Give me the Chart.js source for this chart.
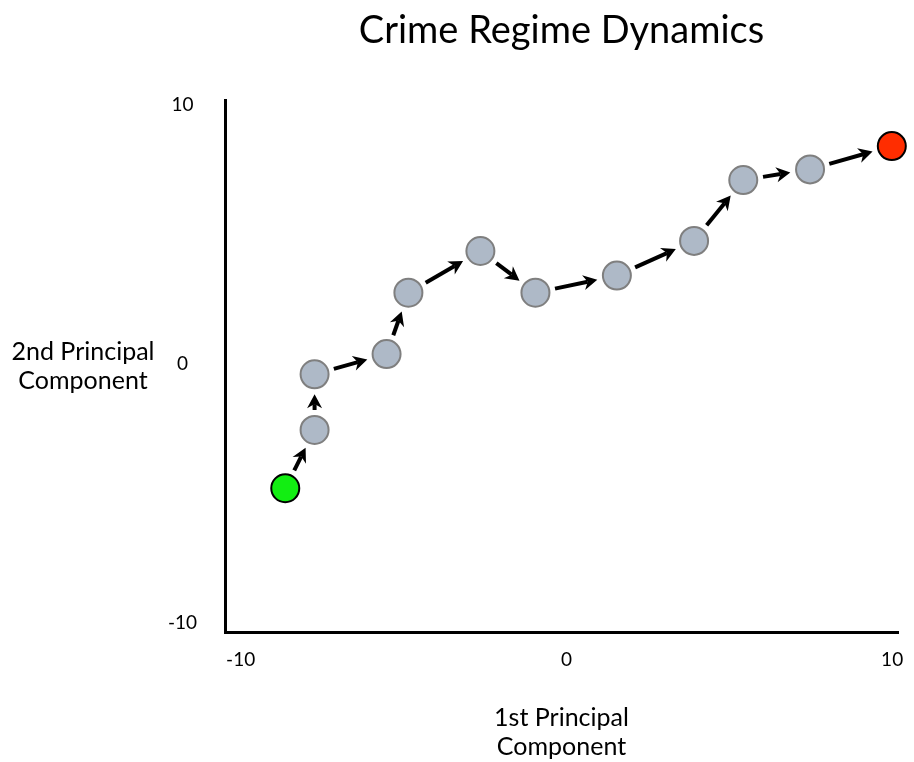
<!DOCTYPE html>
<html lang="en">
<head>
  <title>Crime Regime Dynamics</title>
  <script src="https://cdn.jsdelivr.net/npm/chart.js"></script>
  <style>
    body { margin: 0; background: #ffffff; }
    #wrap { width: 914px; height: 762px; }
  </style>
</head>
<body>
  <div id="wrap">
    <canvas id="regimeChart" width="914" height="762"></canvas>
  </div>
  <script>
    // yearly positions on the first two principal components
    var pc1 = [-8.63, -7.73, -7.73, -5.52, -4.85, -2.64, -0.95, 1.55, 3.92, 5.43, 7.48, 9.99];
    var pc2 = [-4.80, -2.55, -0.40, 0.38, 2.75, 4.36, 2.75, 3.41, 4.75, 7.10, 7.51, 8.41];
    var xTicks = [-10, 0, 10];
    var yTicks = [-10, 0, 10];

    var FONT = "Lato, 'Open Sans', sans-serif";
    var R = 14;

    var pts = [];
    for (var i = 0; i < pc1.length; i++) pts.push({x: pc1[i], y: pc2[i]});

    function fillFor(ctx) {
      if (ctx.dataIndex === 0) return '#12ee12';
      if (ctx.dataIndex === pc1.length - 1) return '#ff2d00';
      return '#aeb9c7';
    }
    function edgeFor(ctx) {
      if (ctx.dataIndex === 0 || ctx.dataIndex === pc1.length - 1) return '#000000';
      return '#7f7f7f';
    }

    function noPad(s) { s.paddingLeft = 0; s.paddingRight = 0; s.paddingTop = 0; s.paddingBottom = 0; }

    // arrows between consecutive points
    var arrowPlugin = {
      id: 'arrows',
      beforeDatasetsDraw: function(chart) {
        var c = chart.ctx, xs = chart.scales.x, ys = chart.scales.y;
        c.save();
        c.strokeStyle = '#000';
        c.fillStyle = '#000';
        c.lineWidth = 4;
        for (var i = 0; i < pc1.length - 1; i++) {
          var x0 = xs.getPixelForValue(pc1[i]), y0 = ys.getPixelForValue(pc2[i]);
          var x1 = xs.getPixelForValue(pc1[i + 1]), y1 = ys.getPixelForValue(pc2[i + 1]);
          var dx = x1 - x0, dy = y1 - y0, len = Math.sqrt(dx * dx + dy * dy);
          var ux = dx / len, uy = dy / len, px = -uy, py = ux;
          var sx = x0 + ux * (R + 6), sy = y0 + uy * (R + 6);
          var ex = x1 - ux * (R + 6), ey = y1 - uy * (R + 6);
          var hl = 14, hw = 7.5;
          c.beginPath();
          c.moveTo(sx, sy);
          c.lineTo(ex - ux * hl * 0.7, ey - uy * hl * 0.7);
          c.stroke();
          c.beginPath();
          c.moveTo(ex, ey);
          c.lineTo(ex - ux * hl + px * hw, ey - uy * hl + py * hw);
          c.lineTo(ex - ux * hl * 0.7, ey - uy * hl * 0.7);
          c.lineTo(ex - ux * hl - px * hw, ey - uy * hl - py * hw);
          c.closePath();
          c.fill();
        }
        c.restore();
      }
    };

    // horizontal y axis title on the left
    var yTitlePlugin = {
      id: 'yTitle',
      afterDraw: function(chart) {
        var c = chart.ctx;
        c.save();
        c.fillStyle = '#000';
        c.font = '25px ' + FONT;
        c.textAlign = 'center';
        c.textBaseline = 'middle';
        c.fillText('2nd Principal', 83, 352);
        c.fillText('Component', 83, 381);
        c.restore();
      }
    };

    var ctx = document.getElementById('regimeChart').getContext('2d');
    var chart = new Chart(ctx, {
      type: 'scatter',
      data: {
        datasets: [{
          data: pts,
          pointRadius: R,
          pointBorderWidth: 2,
          pointBackgroundColor: fillFor,
          pointBorderColor: edgeFor,
          clip: false
        }]
      },
      options: {
        responsive: false,
        animation: false,
        events: [],
        layout: { padding: { left: 0, right: 6, top: 0, bottom: 0 } },
        plugins: {
          legend: { display: false },
          tooltip: { enabled: false },
          title: {
            display: true,
            fullSize: false,
            text: 'Crime Regime Dynamics',
            color: '#000',
            font: { family: FONT, size: 38, weight: 'normal', lineHeight: 1.2 },
            padding: { top: 8, bottom: 46.4 }
          }
        },
        scales: {
          x: {
            type: 'linear',
            min: -10.48,
            max: 10.18,
            afterBuildTicks: function(s) { s.ticks = xTicks.map(function(v) { return {value: v}; }); },
            afterFit: function(s) { s.height = 130; noPad(s); },
            grid: { display: false, drawTicks: false },
            border: { display: true, width: 3, color: '#000' },
            ticks: { color: '#000', padding: 0, maxRotation: 0, font: { family: FONT, size: 19, lineHeight: '56px' } },
            title: {
              display: true,
              text: ['1st Principal', 'Component'],
              color: '#000',
              font: { family: FONT, size: 25, lineHeight: 1.15 },
              padding: { top: 0, bottom: 1 }
            }
          },
          y: {
            type: 'linear',
            min: -10.35,
            max: 10.19,
            afterBuildTicks: function(s) { s.ticks = yTicks.map(function(v) { return {value: v}; }); },
            afterFit: function(s) { s.width = 225; noPad(s); },
            grid: { display: false, drawTicks: false },
            border: { display: true, width: 3, color: '#000' },
            ticks: { color: '#000', padding: 28, crossAlign: 'center', font: { family: FONT, size: 19 } }
          }
        }
      },
      plugins: [arrowPlugin, yTitlePlugin]
    });
  </script>
</body>
</html>
